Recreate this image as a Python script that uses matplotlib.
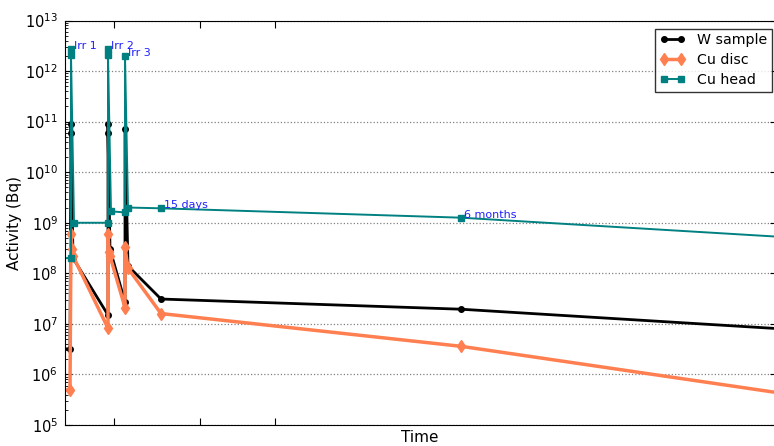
import matplotlib
matplotlib.use("Agg")
import matplotlib.pyplot as plt
from matplotlib.ticker import LogLocator, NullFormatter

# Activity of the three components versus time (arbitrary time scale)
time_w = [-5, 5, 6, 6, 8, 43, 43, 43, 45, 60, 60, 63, 96, 396, 720]
act_w = [3.2e6, 3.2e6, 9e10, 6e10, 2e8, 1.5e7, 9e10, 6e10, 3e8, 2.7e7, 7e10,
         1.4e8, 3.1e7, 1.95e7, 7.9e6]

time_disc = [-5, 5, 6, 7, 8, 43, 43, 44, 45, 60, 60, 63, 96, 396, 720]
act_disc = [4.9e5, 4.9e5, 6e8, 3e8, 2.2e8, 8.2e6, 6e8, 2.7e8, 2.2e8, 2.1e7,
            3.3e8, 1.26e8, 1.6e7, 3.6e6, 4.15e5]

time_head = [-5, 6, 6, 6, 9, 43, 43, 43, 46, 60, 60, 63, 96, 396, 720]
act_head = [2e8, 2e8, 2.7e12, 2.1e12, 1e9, 1e9, 2.7e12, 2.1e12, 1.68e9, 1.6e9,
            2.0e12, 2.0e9, 1.93e9, 1.26e9, 5.2e8]

labels = ["Irr 1", "Irr 2", "Irr 3", "15 days", "6 months"]
label_time = [6, 43, 60, 96, 396]
label_act = [2.7e12, 2.7e12, 2.0e12, 1.93e9, 1.26e9]

xtick_pos = [49, 135, 210]

W, H = 774, 446
fig = plt.figure(figsize=(W / 100, H / 100), dpi=100)
ax = fig.add_axes([65 / W, 21 / H, (777 - 65) / W, (425 - 20.5) / H])

ax.plot(time_w, act_w, color="black", lw=2, marker="o", ms=4,
        label="W sample")
ax.plot(time_disc, act_disc, color="#FF7F50", lw=2.5, marker="d", ms=6.5,
        mec="#FF7F50", label="Cu disc")
ax.plot(time_head, act_head, color="#008080", lw=1.4, marker="s", ms=4.5,
        mec="#008080", label="Cu head")

for txt, t, a in zip(labels, label_time, label_act):
    ax.annotate(txt, (t, a), xytext=(2, 0), textcoords="offset points",
                color="#2020ff", fontsize=8)

ax.set_yscale("log")
ax.set_ylim(1e5, 1e13)
ax.set_xlim(0, 712)
ax.yaxis.set_major_locator(LogLocator(base=10, numticks=20))
ax.yaxis.set_minor_locator(LogLocator(base=10, subs=range(2, 10), numticks=100))
ax.yaxis.set_minor_formatter(NullFormatter())

ax.set_xticks(xtick_pos)
ax.set_xticklabels([])
ax.tick_params(axis="both", which="both", direction="in", top=True,
               right=True)
ax.tick_params(axis="both", which="major", length=5, width=0.8)
ax.tick_params(axis="y", which="minor", length=2.5, width=0.6)
ax.tick_params(axis="y", labelsize=10.5, pad=5)

ax.yaxis.grid(True, which="major", linestyle=":", color="gray", lw=0.9)

ax.set_xlabel("Time", fontsize=11)
ax.xaxis.set_label_coords(0.5 * (775 - 65) / (777 - 65), -0.012)
ax.set_ylabel("Activity (Bq)", fontsize=11)
ax.yaxis.set_label_coords(-0.06, 0.5)

leg = ax.legend(loc="upper right", bbox_to_anchor=(772 / W, 1 - 28.5 / H),
                bbox_transform=fig.transFigure, borderaxespad=0,
                numpoints=2, fancybox=False, fontsize=10.2, handlelength=1.8,
                borderpad=0.35, labelspacing=0.4)
leg.get_frame().set_edgecolor("black")
leg.get_frame().set_linewidth(1.0)

fig.savefig("out.png", dpi=100)
